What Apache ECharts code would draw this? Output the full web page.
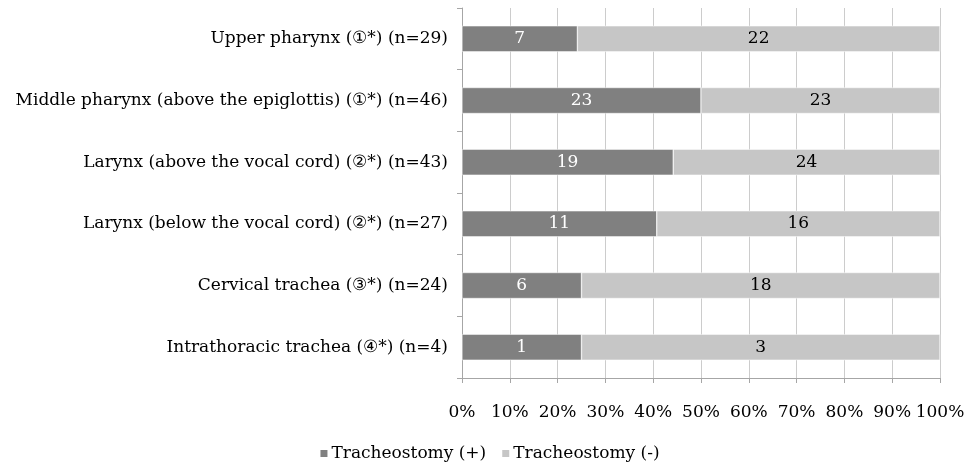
<!DOCTYPE html>
<html>
<head>
<meta charset="utf-8">
<script src="https://cdn.jsdelivr.net/npm/echarts@6/dist/echarts.min.js"></script>
<style>
  html, body { margin: 0; padding: 0; background: #ffffff; }
  #chart { width: 978px; height: 467px; }
</style>
</head>
<body>
<div id="chart"></div>
<script>
  // 数据
  var categories = [
    'Upper pharynx (\u2460*) (n=29)',
    'Middle pharynx (above the epiglottis) (\u2460*) (n=46)',
    'Larynx (above the vocal cord) (\u2461*) (n=43)',
    'Larynx (below the vocal cord) (\u2461*) (n=27)',
    'Cervical trachea (\u2462*) (n=24)',
    'Intrathoracic trachea (\u2463*) (n=4)'
  ];
  var tracheoPlus = [7, 23, 19, 11, 6, 1];
  var tracheoMinus = [22, 23, 24, 16, 18, 3];
  var seriesNames = ['Tracheostomy (+)', 'Tracheostomy (-)'];

  var font = 'DejaVu Serif';
  var fontSize = 17;

  function toPercent(arr, other) {
    let out = [];
    for (let i = 0; i < arr.length; i++) {
      out.push({value: arr[i] / (arr[i] + other[i]) * 100, count: arr[i]});
    }
    return out;
  }

  var myChart = echarts.init(document.getElementById('chart'));
  var option = {
    animation: false,
    textStyle: {fontFamily: font},
    grid: {left: 462, right: 38, top: 8, bottom: 89},
    legend: {
      bottom: 0,
      left: 'center',
      itemWidth: 9,
      itemHeight: 9,
      itemGap: 14,
      icon: 'rect',
      textStyle: {fontFamily: font, fontSize: fontSize, color: '#000', padding: [0, 0, 0, -2]},
      data: seriesNames
    },
    xAxis: {
      type: 'value',
      min: 0,
      max: 100,
      interval: 10,
      axisLine: {show: true, lineStyle: {color: '#a6a6a6'}},
      axisTick: {show: true, length: 5, lineStyle: {color: '#a6a6a6'}},
      splitLine: {show: true, lineStyle: {color: '#cccccc'}},
      axisLabel: {
        margin: 26,
        color: '#000',
        fontFamily: font,
        fontSize: fontSize,
        formatter: '{value}%'
      }
    },
    yAxis: {
      type: 'category',
      inverse: true,
      data: categories,
      axisLine: {show: true, lineStyle: {color: '#a6a6a6'}},
      axisTick: {show: true, length: 5, lineStyle: {color: '#a6a6a6'}},
      axisLabel: {margin: 14, color: '#000', fontFamily: font, fontSize: fontSize}
    },
    series: [
      {
        name: seriesNames[0],
        type: 'bar',
        stack: 'total',
        barWidth: 26,
        itemStyle: {color: '#808080', borderColor: '#ffffff', borderWidth: 0.5},
        label: {
          show: true,
          position: 'inside',
          color: '#ffffff',
          fontFamily: font,
          fontSize: fontSize,
          formatter: function (p) { return p.data.count; }
        },
        data: toPercent(tracheoPlus, tracheoMinus)
      },
      {
        name: seriesNames[1],
        type: 'bar',
        stack: 'total',
        barWidth: 26,
        itemStyle: {color: '#c6c6c6', borderColor: '#ffffff', borderWidth: 0.5},
        label: {
          show: true,
          position: 'inside',
          color: '#000000',
          fontFamily: font,
          fontSize: fontSize,
          formatter: function (p) { return p.data.count; }
        },
        data: toPercent(tracheoMinus, tracheoPlus)
      }
    ]
  };
  myChart.setOption(option);
</script>
</body>
</html>
